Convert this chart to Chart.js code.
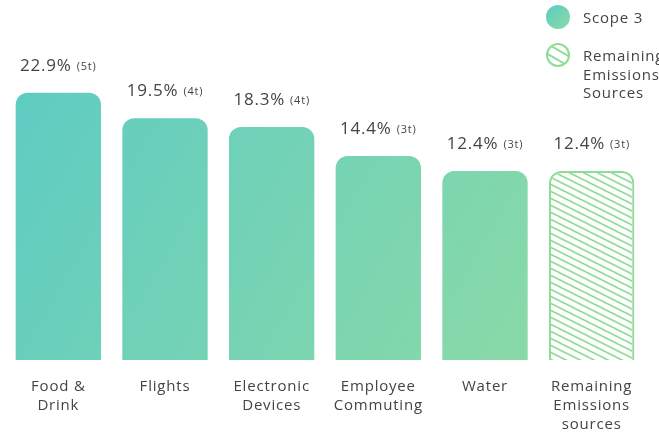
<!DOCTYPE html>
<html>
<head>
<meta charset="utf-8">
<script src="https://cdn.jsdelivr.net/npm/chart.js@4.4.1/dist/chart.umd.min.js"></script>
<style>
  html, body { margin: 0; padding: 0; background: #fff; }
  #wrap { position: relative; width: 659px; height: 433px; }
</style>
</head>
<body>
<div id="wrap"><canvas id="emissoesChart"></canvas></div>
<script>
// Categorias e valores
const categorias = [
    ["Food &", "Drink"],
    ["Flights"],
    ["Electronic", "Devices"],
    ["Employee", "Commuting"],
    ["Water"],
    ["Remaining", "Emissions", "sources"]
];
const percentuais = [22.9, 19.5, 18.3, 14.4, 12.4, 12.4];
const toneladas = ["5t", "4t", "4t", "3t", "3t", "3t"];
const hachurado = [false, false, false, false, false, true];
const legendaTextos = [["Scope 3"], ["Remaining", "Emissions", "Sources"]];

const FONTE = "'Open Sans', 'DejaVu Sans', sans-serif";
const COR_TEXTO = "#444";
const VERDE_BORDA = "#8fdc98";
const BASE_EIXO = -13;
const ESPACO_LETRAS = "0.8px";

// Padrão de linhas diagonais
function criarPadrao(ctx) {
    const tile = document.createElement("canvas");
    tile.width = 14;
    tile.height = 7;
    const t = tile.getContext("2d");
    t.strokeStyle = VERDE_BORDA;
    t.lineWidth = 1.6;
    for (let k = -1; k <= 1; k++) {
        t.beginPath();
        t.moveTo(-2, -1 + k * 7);
        t.lineTo(16, 8 + k * 7);
        t.stroke();
    }
    return ctx.createPattern(tile, "repeat");
}

// Gradiente sobre a área do gráfico
function criarGradiente(ctx, area) {
    const g = ctx.createLinearGradient(area.left, area.top, area.right - 90, area.bottom);
    g.addColorStop(0, "#5ccbc4");
    g.addColorStop(1, "#8bdaa6");
    return g;
}

// Espaçamento entre letras (o resize do canvas zera o estado)
const espacamentoPlugin = {
    id: "espacamento",
    beforeUpdate(chart) { chart.ctx.letterSpacing = ESPACO_LETRAS; },
    beforeDraw(chart) { chart.ctx.letterSpacing = ESPACO_LETRAS; }
};

// Rótulos de valor acima das barras
const rotulosPlugin = {
    id: "rotulos",
    afterDatasetsDraw(chart) {
        const ctx = chart.ctx;
        const meta = chart.getDatasetMeta(0);
        ctx.save();
        ctx.fillStyle = COR_TEXTO;
        ctx.textBaseline = "alphabetic";
        ctx.textAlign = "left";
        meta.data.forEach((bar, i) => {
            const principal = percentuais[i].toFixed(1) + "%";
            const extra = "(" + toneladas[i] + ")";
            ctx.font = "17px " + FONTE;
            const w1 = ctx.measureText(principal).width;
            ctx.font = "11px " + FONTE;
            const w2 = ctx.measureText(extra).width;
            const gap = 5;
            const x0 = bar.x - (w1 + gap + w2) / 2;
            const y = bar.y - 22;
            ctx.font = "17px " + FONTE;
            ctx.fillText(principal, x0, y);
            ctx.font = "11px " + FONTE;
            ctx.fillText(extra, x0 + w1 + gap, y - 1);
        });
        ctx.restore();
    }
};

// Legenda desenhada no canto superior direito
const legendaPlugin = {
    id: "legendaCustom",
    afterDraw(chart) {
        const ctx = chart.ctx;
        const cx = 558;
        ctx.save();
        // Scope 3
        const g = ctx.createLinearGradient(cx - 12, 5, cx + 12, 29);
        g.addColorStop(0, "#5ccbc4");
        g.addColorStop(1, "#8bdaa6");
        ctx.fillStyle = g;
        ctx.beginPath();
        ctx.arc(cx, 17, 12, 0, Math.PI * 2);
        ctx.fill();
        // Remaining
        const cy = 55;
        ctx.beginPath();
        ctx.arc(cx, cy, 11, 0, Math.PI * 2);
        ctx.fillStyle = "#fff";
        ctx.fill();
        ctx.save();
        ctx.clip();
        ctx.strokeStyle = VERDE_BORDA;
        ctx.lineWidth = 2;
        [-5, 5].forEach(off => {
            ctx.beginPath();
            ctx.moveTo(cx - 14, cy - 8 + off);
            ctx.lineTo(cx + 14, cy + 8 + off);
            ctx.stroke();
        });
        ctx.restore();
        ctx.strokeStyle = VERDE_BORDA;
        ctx.lineWidth = 2;
        ctx.beginPath();
        ctx.arc(cx, cy, 11, 0, Math.PI * 2);
        ctx.stroke();

        ctx.fillStyle = COR_TEXTO;
        ctx.font = "15px " + FONTE;
        ctx.textAlign = "left";
        ctx.textBaseline = "alphabetic";
        ctx.fillText(legendaTextos[0][0], 583, 23);
        legendaTextos[1].forEach((linha, i) => ctx.fillText(linha, 583, 61 + i * 18.5));
        ctx.restore();
    }
};

const ctx = document.getElementById("emissoesChart").getContext("2d");
let padrao = null;

new Chart(ctx, {
    type: "bar",
    data: {
        labels: categorias,
        datasets: [{
            data: percentuais,
            base: BASE_EIXO,
            backgroundColor: (c) => {
                const area = c.chart.chartArea;
                if (!area) return "#6dd2b8";
                if (hachurado[c.dataIndex]) {
                    if (!padrao) padrao = criarPadrao(c.chart.ctx);
                    return padrao;
                }
                return criarGradiente(c.chart.ctx, area);
            },
            borderColor: (c) => hachurado[c.dataIndex] ? VERDE_BORDA : "rgba(0,0,0,0)",
            borderWidth: (c) => hachurado[c.dataIndex] ? 2 : 0,
            borderRadius: { topLeft: 12, topRight: 12, bottomLeft: 0, bottomRight: 0 },
            borderSkipped: "bottom",
            categoryPercentage: 1,
            barPercentage: 0.8
        }]
    },
    options: {
        responsive: true,
        maintainAspectRatio: false,
        animation: false,
        layout: { padding: { left: 5, right: 14, top: 40, bottom: 0 } },
        plugins: {
            legend: { display: false },
            tooltip: { enabled: false }
        },
        scales: {
            x: {
                grid: { display: false, drawTicks: false },
                border: { display: false },
                afterFit: (escala) => { escala.height = 73; },
                ticks: {
                    color: COR_TEXTO,
                    font: { family: FONTE, size: 15, lineHeight: 1.27 },
                    padding: 17,
                    maxRotation: 0,
                    autoSkip: false
                }
            },
            y: {
                display: false,
                min: BASE_EIXO,
                max: 30
            }
        }
    },
    plugins: [espacamentoPlugin, rotulosPlugin, legendaPlugin]
});
</script>
</body>
</html>
